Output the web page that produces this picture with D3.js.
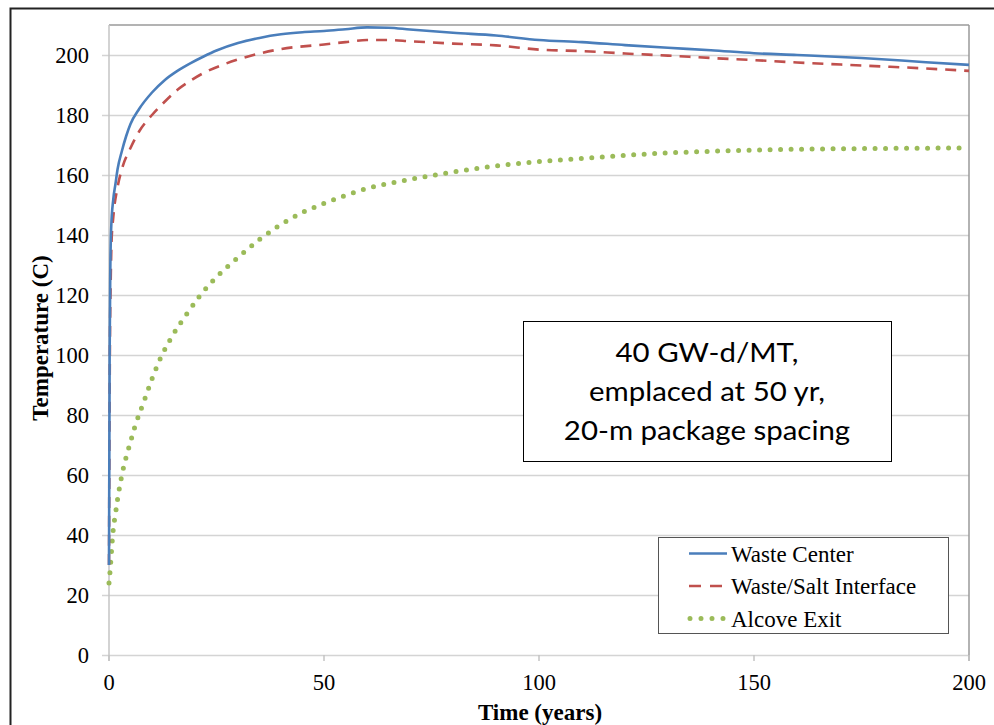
<!DOCTYPE html>
<html>
<head>
<meta charset="utf-8">
<script src="https://cdn.jsdelivr.net/npm/d3@7"></script>
<style>
  html, body { margin: 0; padding: 0; background: #fff; }
  svg { display: block; }
</style>
</head>
<body>
<svg id="chart" width="994" height="725"></svg>
<script>
// Temperature histories (deg C) against time (years)
const wasteCenterTime = [0, 0.15, 0.3, 0.5, 1, 1.5, 2, 3, 4, 5, 7, 10, 13, 16, 19, 22, 25, 30, 35, 40, 45, 50, 55, 60, 65, 70, 80, 90, 100, 110, 120, 130, 140, 150, 160, 175, 190, 200];
const wasteCenterTemp = [30, 100, 128, 142, 152, 157, 162, 168, 173, 177, 182, 187.5, 191.7, 194.8, 197.3, 199.5, 201.5, 204, 205.7, 206.9, 207.6, 208, 208.6, 209.2, 209.1, 208.5, 207.4, 206.5, 205, 204.3, 203.3, 202.4, 201.6, 200.6, 200, 199, 197.6, 196.7];

const interfaceTime = [0, 0.2, 0.4, 0.6, 1, 2, 3, 5, 7, 10, 13, 16, 19, 22, 26, 30, 35, 40, 50, 55, 60, 65, 70, 80, 90, 100, 110, 120, 130, 140, 150, 160, 175, 190, 200];
const interfaceTemp = [30, 100, 125, 138, 146, 156, 162, 169, 174.5, 180, 184.5, 188.5, 191.5, 194, 196.5, 198.5, 200.5, 202, 203.5, 204.3, 205, 205, 204.6, 203.8, 203.2, 201.8, 201.3, 200.5, 199.8, 199, 198.3, 197.5, 196.5, 195.5, 194.7];

const alcoveTime = [0, 0.25, 0.5, 0.75, 1, 1.5, 2, 3, 4, 5, 6, 8, 10, 12, 15, 18, 21, 25, 30, 35, 40, 45, 50, 60, 70, 80, 90, 100, 110, 125, 150, 175, 200];
const alcoveTemp = [24, 28, 33, 38, 42, 47, 52, 60, 66, 71, 76, 84, 92, 99, 107, 113.5, 119.5, 126, 132.5, 138.5, 143.5, 147.5, 150.5, 155.5, 158.5, 161, 163, 164.5, 165.5, 167, 168.3, 168.8, 169];

const seriesNames = ["Waste Center", "Waste/Salt Interface", "Alcove Exit"];
const xTicks = [0, 50, 100, 150, 200];
const yTicks = [0, 20, 40, 60, 80, 100, 120, 140, 160, 180, 200];
const noteLines = ["40 GW-d/MT,", "emplaced at 50 yr,", "20-m package spacing"];

const svg = d3.select("#chart");
const serif = "'Liberation Serif', 'Times New Roman', serif";

// outer frame
svg.append("rect")
  .attr("x", 10.5).attr("y", 8.5).attr("width", 1000).attr("height", 800)
  .attr("fill", "none").attr("stroke", "#222").attr("stroke-width", 2);

const plotL = 109, plotR = 969, plotT = 25, plotB = 655;
const x = d3.scaleLinear().domain([0, 200]).range([plotL, plotR]);
const y = d3.scaleLinear().domain([0, 200]).range([plotB, plotB - 600]);

// horizontal gridlines (extend left as tick marks)
svg.append("g").selectAll("line").data(yTicks).join("line")
  .attr("x1", plotL - 7).attr("x2", plotR)
  .attr("y1", d => y(d) + 0.5).attr("y2", d => y(d) + 0.5)
  .attr("stroke", "#d4d4d4").attr("stroke-width", 1.5);

// plot frame
svg.append("line").attr("x1", plotL).attr("x2", plotR).attr("y1", plotT).attr("y2", plotT)
  .attr("stroke", "#9a9a9a").attr("stroke-width", 1.5);
svg.append("line").attr("x1", plotR).attr("x2", plotR).attr("y1", plotT).attr("y2", plotB + 6)
  .attr("stroke", "#9a9a9a").attr("stroke-width", 1.5);
svg.append("line").attr("x1", plotL).attr("x2", plotL).attr("y1", plotT).attr("y2", plotB + 6)
  .attr("stroke", "#c4c4c4").attr("stroke-width", 1.5);

// x axis ticks
svg.append("g").selectAll("line").data(xTicks).join("line")
  .attr("x1", d => x(d)).attr("x2", d => x(d))
  .attr("y1", plotB).attr("y2", plotB + 6)
  .attr("stroke", "#c4c4c4").attr("stroke-width", 1.5);

// tick labels
svg.append("g").selectAll("text").data(yTicks).join("text")
  .attr("x", 89).attr("y", d => y(d) + 8)
  .attr("text-anchor", "end")
  .attr("font-family", serif).attr("font-size", 22.5).attr("fill", "#000")
  .text(d => d);
svg.append("g").selectAll("text").data(xTicks).join("text")
  .attr("x", d => x(d)).attr("y", 690)
  .attr("text-anchor", "middle")
  .attr("font-family", serif).attr("font-size", 22.5).attr("fill", "#000")
  .text(d => d);

// axis titles
svg.append("text")
  .attr("transform", "translate(48,338) rotate(-90)")
  .attr("text-anchor", "middle")
  .attr("font-family", serif).attr("font-size", 23).attr("font-weight", "bold")
  .text("Temperature (C)");
svg.append("text")
  .attr("x", 540).attr("y", 720)
  .attr("text-anchor", "middle")
  .attr("font-family", serif).attr("font-size", 23).attr("font-weight", "bold")
  .text("Time (years)");

const styles = [
  { color: "#4a7ebb", dash: null, width: 2.6, cap: "butt" },
  { color: "#c0504d", dash: "11,8", width: 2.6, cap: "butt" },
  { color: "#9bbb59", dash: "0,10.5", width: 5, cap: "round" }
];
const series = [
  { t: wasteCenterTime, v: wasteCenterTemp },
  { t: interfaceTime, v: interfaceTemp },
  { t: alcoveTime, v: alcoveTemp }
];

const line = d3.line().x(d => x(d[0])).y(d => y(d[1])).curve(d3.curveMonotoneX);

// draw alcove first, then interface, then center on top
[2, 1, 0].forEach(i => {
  const s = series[i], st = styles[i];
  const pts = s.t.map((t, k) => [t, s.v[k]]);
  svg.append("path")
    .attr("d", line(pts))
    .attr("fill", "none")
    .attr("stroke", st.color)
    .attr("stroke-width", st.width)
    .attr("stroke-linecap", st.cap)
    .attr("stroke-linejoin", "round")
    .attr("stroke-dasharray", st.dash);
});

// annotation box
const note = svg.append("g");
note.append("rect")
  .attr("x", 523.5).attr("y", 321.5).attr("width", 368).attr("height", 140)
  .attr("fill", "#fff").attr("stroke", "#000").attr("stroke-width", 1);
note.append("g")
  .attr("transform", "translate(707,0) scale(1.09,1)")
  .selectAll("text").data(noteLines).join("text")
  .attr("x", 0).attr("y", (d, i) => 362 + i * 39)
  .attr("text-anchor", "middle")
  .attr("font-family", "Lato, 'Open Sans', sans-serif").attr("font-size", 27).attr("fill", "#000")
  .text(d => d);

// legend
const legend = svg.append("g");
legend.append("rect")
  .attr("x", 658.5).attr("y", 537.5).attr("width", 290).attr("height", 96)
  .attr("fill", "#fff").attr("stroke", "#555").attr("stroke-width", 1);
seriesNames.forEach((name, i) => {
  const ly = 553.5 + i * 32.5;
  const st = styles[i];
  legend.append("line")
    .attr("x1", i === 2 ? 690 : 689).attr("x2", i === 2 ? 726 : 727)
    .attr("y1", ly).attr("y2", ly)
    .attr("stroke", st.color).attr("stroke-width", st.width)
    .attr("stroke-linecap", st.cap)
    .attr("stroke-dasharray", i === 1 ? "12,9" : (i === 2 ? "0,11" : null));
  legend.append("text")
    .attr("x", 731).attr("y", ly + 8)
    .attr("font-family", serif).attr("font-size", 23).attr("fill", "#000")
    .text(name);
});
</script>
</body>
</html>
